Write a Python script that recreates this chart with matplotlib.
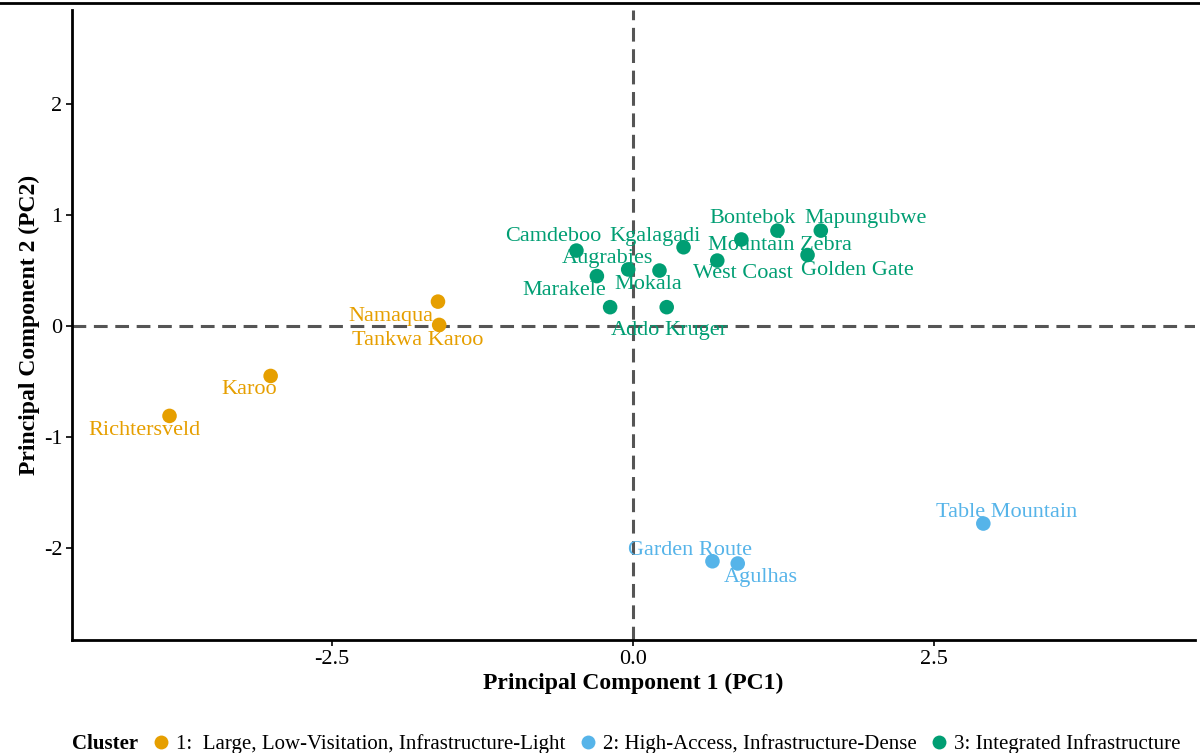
import matplotlib.pyplot as plt
from matplotlib.lines import Line2D

plt.rcParams['font.family'] = ['Liberation Serif', 'DejaVu Serif']
plt.rcParams['axes.unicode_minus'] = False

# PCA scores per park
parks = ['Richtersveld', 'Karoo', 'Namaqua', 'Tankwa Karoo',
         'Camdeboo', 'Augrabies', 'Marakele', 'Addo', 'Mokala', 'Kruger',
         'Kgalagadi', 'West Coast', 'Mountain Zebra', 'Bontebok', 'Mapungubwe', 'Golden Gate',
         'Table Mountain', 'Garden Route', 'Agulhas']
pc1 = [-3.85, -3.01, -1.62, -1.61,
       -0.47, -0.04, -0.30, -0.19, 0.22, 0.28,
       0.42, 0.70, 0.90, 1.20, 1.56, 1.45,
       2.91, 0.66, 0.87]
pc2 = [-0.81, -0.45, 0.22, 0.01,
       0.68, 0.51, 0.45, 0.17, 0.50, 0.17,
       0.71, 0.59, 0.78, 0.86, 0.86, 0.64,
       -1.78, -2.12, -2.14]
cluster = [1, 1, 1, 1,
           3, 3, 3, 3, 3, 3,
           3, 3, 3, 3, 3, 3,
           2, 2, 2]

# label positions (repelled text)
lab_x = [-4.06, -3.19, -2.01, -1.79,
         -0.66, -0.21, -0.57, 0.02, 0.13, 0.52,
         0.18, 0.91, 1.22, 0.99, 1.93, 1.86,
         3.10, 0.47, 1.06]
lab_y = [-0.94, -0.57, 0.09, -0.13,
         0.81, 0.61, 0.32, -0.04, 0.37, -0.04,
         0.81, 0.47, 0.73, 0.97, 0.97, 0.50,
         -1.68, -2.02, -2.27]

cluster_names = {1: '1:  Large, Low-Visitation, Infrastructure-Light',
                 2: '2: High-Access, Infrastructure-Dense',
                 3: '3: Integrated Infrastructure'}
colors = {1: '#E69F00', 2: '#56B4E9', 3: '#009E73'}

fig = plt.figure(figsize=(12, 7.53), dpi=100)
ax = fig.add_axes([0.06, 0.150, 0.936, 0.837])

ax.axhline(0, color='#555555', lw=2.2, ls=(0, (4.5, 2.5)), zorder=1)
ax.axvline(0, color='#555555', lw=2.2, ls=(0, (4.5, 2.5)), zorder=1)

for k in [1, 2, 3]:
    xs = [x for x, c in zip(pc1, cluster) if c == k]
    ys = [y for y, c in zip(pc2, cluster) if c == k]
    ax.scatter(xs, ys, s=110, color=colors[k], edgecolors='none', zorder=3)

for name, x, y, c in zip(parks, lab_x, lab_y, cluster):
    ax.text(x, y, name, color=colors[c], fontsize=16, ha='center', va='center', zorder=4)

ax.set_xlim(-4.66, 4.67)
ax.set_ylim(-2.83, 2.85)
ax.set_xticks([-2.5, 0, 2.5])
ax.set_xticklabels(['-2.5', '0.0', '2.5'])
ax.set_yticks([-2, -1, 0, 1, 2])
ax.tick_params(labelsize=16, length=4, width=1.2, colors='black', pad=3)
for s in ['top', 'right']:
    ax.spines[s].set_visible(False)
for s in ['left', 'bottom']:
    ax.spines[s].set_linewidth(2)

ax.set_xlabel('Principal Component 1 (PC1)', fontsize=17, fontweight='bold', labelpad=3)
ax.set_ylabel('Principal Component 2 (PC2)', fontsize=17, fontweight='bold', labelpad=3)

# legend at bottom
fig.text(0.06, 0.012, 'Cluster', fontsize=15, fontweight='bold', ha='left', va='center')
handles = [Line2D([], [], marker='o', ls='', markersize=10, color=colors[k],
                  markeredgecolor='none') for k in [1, 2, 3]]
fig.legend(handles, [cluster_names[k] for k in [1, 2, 3]], loc='center left',
           bbox_to_anchor=(0.124, 0.012), ncol=3, frameon=False, fontsize=15,
           handletextpad=0.1, columnspacing=0.5, handlelength=1.2, borderpad=0, borderaxespad=0)

fig.add_artist(Line2D([0, 1], [1 - 3 / 753, 1 - 3 / 753], color='black', lw=2))

fig.savefig('out.png', dpi=100)
